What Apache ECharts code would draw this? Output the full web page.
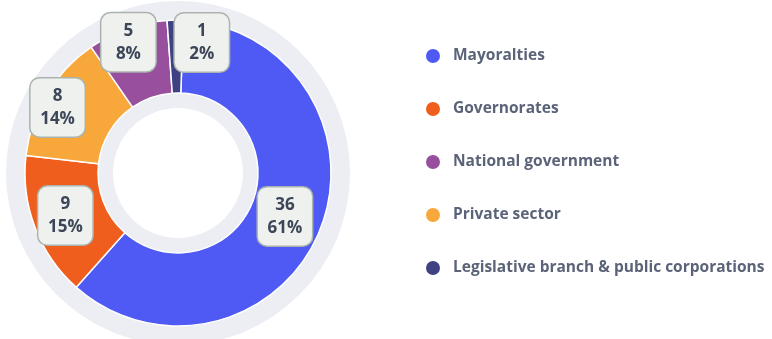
<!DOCTYPE html>
<html>
<head>
<meta charset="utf-8">
<script src="https://cdn.jsdelivr.net/npm/echarts@6/dist/echarts.min.js"></script>
<style>
  html, body { margin: 0; padding: 0; background: #ffffff; }
  #chart { width: 772px; height: 339px; }
</style>
</head>
<body>
<div id="chart"></div>
<script>
// Slices, in drawing order (largest first, clockwise from the top)
const sliceNames  = ['Mayoralties', 'Governorates', 'Private sector', 'National government', 'Legislative branch & public corporations'];
const sliceValues = [36, 9, 8, 5, 1];
const sliceColors = ['#4f5af5', '#f05e1d', '#f8a73a', '#974f9e', '#3f4282'];

// Legend order
const legendNames = ['Mayoralties', 'Governorates', 'National government', 'Private sector', 'Legislative branch & public corporations'];

// Small label nudges so the boxes on the thin slices don't collide
const labelNudge = [[-4, -1], [-1, 0], [-18, -4], [-10, -18], [26, -11]];

const total = sliceValues.reduce((a, b) => a + b, 0);
const CENTER = [178, 173];

const chart = echarts.init(document.getElementById('chart'), null, { renderer: 'canvas' });

chart.setOption({
  animation: false,
  textStyle: { fontFamily: 'Open Sans' },
  legend: {
    orient: 'vertical',
    left: 419,
    top: 42,
    itemWidth: 16,
    itemHeight: 16,
    itemGap: 35,
    icon: 'circle',
    data: legendNames,
    textStyle: {
      color: '#5b6378',
      fontSize: 15.5,
      fontWeight: 'bold',
      fontFamily: 'Open Sans',
      padding: [0, 0, 0, 7]
    },
    selectedMode: false
  },
  series: [
    {
      // pale backdrop disc behind the ring
      type: 'pie',
      silent: true,
      center: CENTER,
      radius: [0, 172],
      label: { show: false },
      labelLine: { show: false },
      itemStyle: { color: '#eceef4' },
      data: [{ value: 1, name: '_backdrop' }],
      z: 1
    },
    {
      type: 'pie',
      center: CENTER,
      radius: [80, 153],
      startAngle: 88,
      clockwise: true,
      avoidLabelOverlap: false,
      itemStyle: { borderColor: '#ffffff', borderWidth: 1.5 },
      label: {
        show: true,
        position: 'inside',
        formatter: p => p.value + '\n' + Math.round(p.value / total * 100) + '%',
        color: '#3c4658',
        fontFamily: 'Open Sans',
        fontWeight: 'bold',
        fontSize: 17,
        lineHeight: 23,
        width: 38,
        align: 'center',
        backgroundColor: '#eef1ee',
        borderColor: '#aab3ad',
        borderWidth: 1.5,
        borderRadius: 9,
        padding: [6, 8]
      },
      labelLine: { show: false },
      labelLayout: params => {
        const n = labelNudge[params.dataIndex] || [0, 0];
        return { dx: n[0], dy: n[1] };
      },
      emphasis: { disabled: true },
      data: sliceNames.map((name, i) => ({
        name,
        value: sliceValues[i],
        itemStyle: { color: sliceColors[i] }
      })),
      z: 2
    },
    {
      // white hole in the middle
      type: 'pie',
      silent: true,
      center: CENTER,
      radius: [0, 65],
      label: { show: false },
      labelLine: { show: false },
      itemStyle: { color: '#ffffff' },
      data: [{ value: 1, name: '_hole' }],
      z: 3
    }
  ]
});
</script>
</body>
</html>
